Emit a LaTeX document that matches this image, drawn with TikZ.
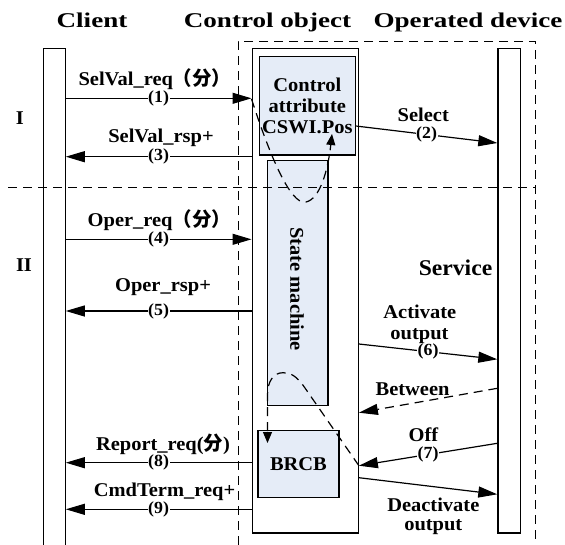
\documentclass[tikz,border=0pt]{standalone}
\usepackage{fontspec}
\setmainfont{Liberation Serif}[FakeStretch=1.05]
\newfontfamily\titlefont{Liberation Serif}[FakeStretch=1.29]
\newfontfamily\cjk{Noto Sans CJK SC}
\usetikzlibrary{arrows.meta}
\definecolor{boxfill}{RGB}{229,236,247}
\begin{document}
\begin{tikzpicture}[x=1pt,y=-1pt,
  lbl/.style={font=\fontsize{19.5}{21}\selectfont\bfseries, inner sep=0pt},
  num/.style={font=\fontsize{17}{18}\selectfont\bfseries, fill=white, inner sep=0.6pt},
  ttl/.style={font=\titlefont\fontsize{21}{22}\selectfont\bfseries, inner sep=0pt},
  life/.style={draw, line width=1.3pt, inner sep=0pt, anchor=north west},
  bluebox/.style={life, fill=boxfill},
  msg/.style={line width=1.2pt, -{Triangle[length=19pt,width=11pt]}},
  dsh/.style={line width=1.2pt, dash pattern=on 9pt off 6pt},
  curvetip/.style={-{Triangle[length=11pt,width=9pt]}}
]
\useasboundingbox (0,0) rectangle (565,544);
\clip (0,0) rectangle (565,544);

% titles
\node[ttl, anchor=base] (tClient) at (92,27.3) {Client};
\node[ttl, anchor=base] (tCtrl) at (267.5,27.3) {Control object};
\node[ttl, anchor=base] (tDev) at (468,27.3) {Operated device};

% phases
\node[lbl, anchor=base] (pI) at (19.8,124) {I};
\node[lbl, anchor=base] (pII) at (24,271.5) {II};

% frames
\node[draw, dsh, inner sep=0pt, anchor=north west, minimum width=297.5pt, minimum height=530pt] (dashbox) at (237.5,40.7) {};
\node[life, minimum width=22pt, minimum height=520pt] (client) at (42.5,47.7) {};
\node[life, minimum width=106.1pt, minimum height=484.6pt] (ctrl) at (251.5,47.7) {};
\node[life, minimum width=22.3pt, minimum height=484.6pt] (opdev) at (497.3,47.7) {};
\node[bluebox, minimum width=95.9pt, minimum height=98.3pt, align=center, font=\fontsize{19.5}{21}\selectfont\bfseries] (attr) at (258.7,56) {Control\\attribute\\CSWI.Pos};
\node[bluebox, minimum width=60.5pt, minimum height=244.7pt] (sm) at (266.7,160) {};
\node[lbl, rotate=-90] (smtext) at (297,289) {State machine};
\node[bluebox, minimum width=81pt, minimum height=66.7pt, font=\fontsize{19.5}{21}\selectfont\bfseries] (brcb) at (257.3,430) {BRCB};
\node[lbl, anchor=base, font=\fontsize{22.5}{24}\selectfont\bfseries] (svc) at (455.5,275) {Service};

% separator
\coordinate (sepL) at (8,187.7);
\draw[dsh] (sepL) -- (dashbox.east |- 0,187.7);

% client messages
\draw[msg] (client.east |- 0,98.3) -- node[num]{(1)} (ctrl.west |- 0,98.3);
\node[lbl, anchor=base] (l1) at (155,85.5) {SelVal\_req{\cjk （分）}};
\draw[msg] (ctrl.west |- 0,156.7) -- node[num]{(3)} (client.east |- 0,156.7);
\node[lbl, anchor=base] (l3) at (161,142.5) {SelVal\_rsp+};
\draw[msg] (client.east |- 0,239.3) -- node[num]{(4)} (ctrl.west |- 0,239.3);
\node[lbl, anchor=base] (l4) at (159.4,226) {Oper\_req{\cjk （分）}};
\draw[msg] (ctrl.west |- 0,311) -- node[num]{(5)} (client.east |- 0,311);
\node[lbl, anchor=base] (l5) at (163,291) {Oper\_rsp+};
\draw[msg] (ctrl.west |- 0,462.7) -- node[num]{(8)} (client.east |- 0,462.7);
\node[lbl, anchor=base] (l8) at (163,450) {Report\_req({\cjk 分})};
\draw[msg] (ctrl.west |- 0,509.3) -- node[num]{(9)} (client.east |- 0,509.3);
\node[lbl, anchor=base] (l9) at (164.5,496) {CmdTerm\_req+};

% device messages
\draw[msg] (attr.east |- 0,126) -- node[num]{(2)} (opdev.west |- 0,143);
\node[lbl, anchor=base] (l2) at (423.3,121.5) {Select};
\draw[msg] (ctrl.east |- 0,344) -- node[num]{(6)} (opdev.west |- 0,359.3);
\node[lbl, anchor=base] (l6a) at (419.8,318.5) {Activate};
\node[lbl, anchor=base] (l6b) at (419.5,339) {output};
\draw[msg, dsh] (opdev.west |- 0,388.3) -- (ctrl.east |- 0,412.7);
\node[lbl, anchor=base] (lb) at (412.6,395) {Between};
\draw[msg] (opdev.west |- 0,443.3) -- node[num]{(7)} (ctrl.east |- 0,465.7);
\node[lbl, anchor=base] (l7) at (423.4,441.5) {Off};
\draw[msg] (ctrl.east |- 0,477.7) -- (opdev.west |- 0,494.3);
\node[lbl, anchor=base] (lda) at (433.3,511) {Deactivate};
\node[lbl, anchor=base] (ldb) at (433.3,530.5) {output};

% internal dashed flows
\coordinate (c1bot) at (306,202);
\coordinate (c1end) at (332,134);
\draw[dsh, curvetip] (ctrl.west |- 0,99) .. controls (268,150) and (290,206) .. (c1bot)
  .. controls (320,199) and (328,170) .. (c1end);
\coordinate (c2a) at (305,388);
\coordinate (c2top) at (283,372.7);
\coordinate (c2b) at (267.5,395);
\coordinate (c2end) at (267.5,443);
\draw[dsh, curvetip] (ctrl.east |- 0,465.7) -- (c2a) .. controls (296,375) and (290,372.7) .. (c2top)
  .. controls (273,372.7) and (267.5,382) .. (c2b) -- (c2end);
\end{tikzpicture}
\end{document}
